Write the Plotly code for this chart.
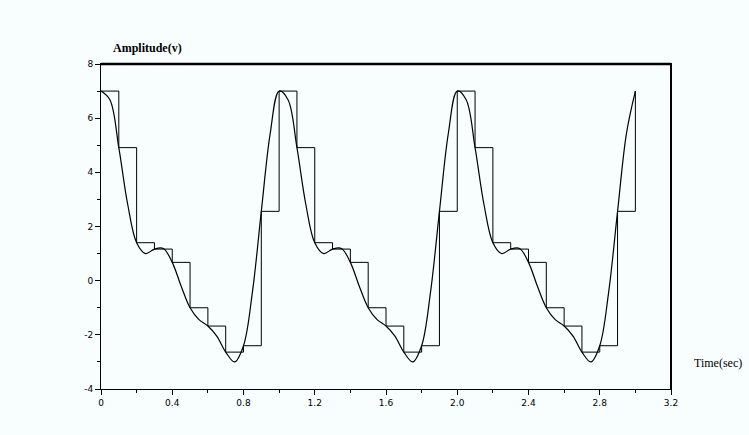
import plotly.graph_objects as go

# Continuous signal, read at 0.05 s steps (t = 0 .. 3.0)
t_curve = [round(i * 0.05, 2) for i in range(61)]
amp_curve = [
    7.0, 6.677, 4.912, 2.812, 1.402, 1.0, 1.166, 1.188, 0.676, -0.205,
    -1.0, -1.441, -1.676, -2.048, -2.638, -3.0, -2.402, -0.424, 2.560, 5.441,
    7.0, 6.677, 4.912, 2.812, 1.402, 1.0, 1.166, 1.188, 0.676, -0.205,
    -1.0, -1.441, -1.676, -2.048, -2.638, -3.0, -2.402, -0.424, 2.560, 5.441,
    7.0, 6.677, 4.912, 2.812, 1.402, 1.0, 1.166, 1.188, 0.676, -0.205,
    -1.0, -1.441, -1.676, -2.048, -2.638, -3.0, -2.402, -0.424, 2.560, 5.441,
    7.0,
]

# Sampled (zero-order hold) signal, samples every 0.1 s
t_samples = [round(i * 0.1, 1) for i in range(31)]
amp_samples = [
    7.0, 4.912, 1.402, 1.166, 0.676, -1.0, -1.676, -2.638, -2.402, 2.560,
    7.0, 4.912, 1.402, 1.166, 0.676, -1.0, -1.676, -2.638, -2.402, 2.560,
    7.0, 4.912, 1.402, 1.166, 0.676, -1.0, -1.676, -2.638, -2.402, 2.560,
    7.0,
]

x_tickvals = [0, 0.4, 0.8, 1.2, 1.6, 2.0, 2.4, 2.8, 3.2]
x_ticktext = ["0", "0.4", "0.8", "1.2", "1.6", "2.0", "2.4", "2.8", "3.2"]
y_tickvals = [-4, -2, 0, 2, 4, 6, 8]
y_ticktext = ["-4", "-2", "0", "2", "4", "6", "8"]

fig = go.Figure()
fig.add_trace(go.Scatter(
    x=t_samples, y=amp_samples, mode="lines",
    line=dict(color="black", width=1, shape="hv"),
    showlegend=False, hoverinfo="skip"))
fig.add_trace(go.Scatter(
    x=t_curve, y=amp_curve, mode="lines",
    line=dict(color="black", width=1.2, shape="spline", smoothing=1.0),
    showlegend=False, hoverinfo="skip"))

bg = "#F8FDFD"
tickfont = dict(family="DejaVu Sans", size=9, color="black")

fig.update_layout(
    width=749, height=435,
    margin=dict(l=101, r=78, t=64, b=46),
    paper_bgcolor=bg, plot_bgcolor=bg,
    xaxis=dict(
        range=[0, 3.2], tickvals=x_tickvals, ticktext=x_ticktext,
        showgrid=False, zeroline=False,
        showline=True, linecolor="black", linewidth=1, mirror=True,
        ticks="outside", ticklen=5, tickwidth=1, tickcolor="black",
        tickfont=tickfont,
        minor=dict(tickmode="linear", tick0=0, dtick=0.2, ticks="outside",
                   ticklen=3, tickcolor="black", showgrid=False),
    ),
    yaxis=dict(
        range=[-4, 8], tickvals=y_tickvals, ticktext=y_ticktext,
        showgrid=False, zeroline=False,
        showline=True, linecolor="black", linewidth=1, mirror=True,
        ticks="outside", ticklen=5, tickwidth=1, tickcolor="black",
        tickfont=tickfont,
        minor=dict(tickmode="linear", tick0=0, dtick=1, ticks="outside",
                   ticklen=3, tickcolor="black", showgrid=False),
    ),
    shapes=[
        dict(type="line", xref="paper", yref="paper", x0=0, x1=1, y0=1, y1=1,
             line=dict(color="black", width=2.5)),
        dict(type="line", xref="paper", yref="paper", x0=1, x1=1, y0=0, y1=1,
             line=dict(color="black", width=2)),
    ],
    annotations=[
        dict(text="<b>Amplitude(v)</b>", xref="paper", yref="paper",
             x=0.018, y=1.049, xanchor="left", yanchor="middle",
             showarrow=False,
             font=dict(family="Liberation Serif", size=12, color="black")),
        dict(text="Time(sec)", xref="paper", yref="paper",
             x=1.036, y=(389.5 - 363) / 325.5, xanchor="left", yanchor="middle",
             showarrow=False,
             font=dict(family="Liberation Serif", size=12, color="black")),
    ],
)

fig.write_html("out.html")
